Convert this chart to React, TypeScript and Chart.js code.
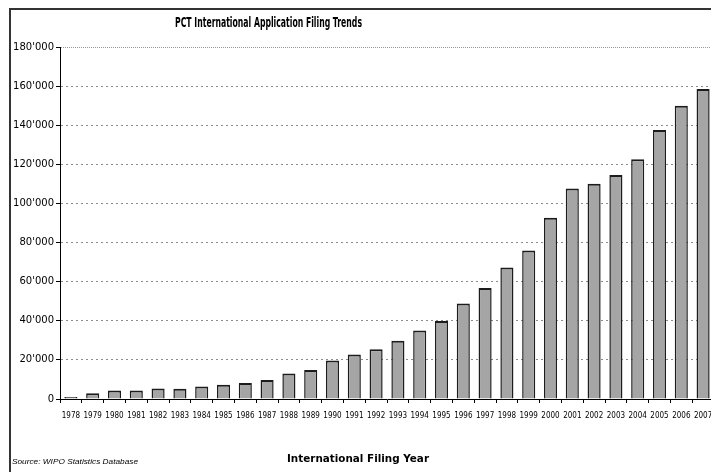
import React, { useEffect, useRef } from "react";
import { Chart, registerables } from "chart.js";

Chart.register(...registerables);

const years: string[] = [
  "1978", "1979", "1980", "1981", "1982", "1983", "1984", "1985", "1986", "1987",
  "1988", "1989", "1990", "1991", "1992", "1993", "1994", "1995", "1996", "1997",
  "1998", "1999", "2000", "2001", "2002", "2003", "2004", "2005", "2006", "2007",
];

const filings: number[] = [
  1000, 2900, 4400, 4300, 5400, 5300, 6400, 7300, 8200, 9700,
  13000, 14800, 19700, 22700, 25500, 29800, 35000, 39900, 48800, 56800,
  67300, 76000, 92700, 107600, 110100, 114600, 122600, 137600, 150000, 158500,
];

const yMin = 0;
const yMax = 180000;
const yStep = 20000;

const chartTitle = "PCT International Application Filing Trends";
const xAxisTitle = "International Filing Year";
const sourceNote = "Source: WIPO Statistics Database";

function formatThousands(v: number): string {
  if (v < 1000) return String(v);
  const k = Math.floor(v / 1000);
  const r = String(v % 1000).padStart(3, "0");
  return k + "'" + r;
}

function drawFitted(
  ctx: CanvasRenderingContext2D,
  text: string,
  font: string,
  left: number,
  baseline: number,
  width: number
) {
  ctx.save();
  ctx.font = font;
  ctx.fillStyle = "#000";
  ctx.textAlign = "left";
  ctx.textBaseline = "alphabetic";
  const w = ctx.measureText(text).width || 1;
  ctx.translate(left, baseline);
  ctx.scale(width / w, 1);
  ctx.fillText(text, 0, 0);
  ctx.restore();
}

const decorPlugin = {
  id: "decor",
  afterDraw(chart: any) {
    const ctx: CanvasRenderingContext2D = chart.ctx;
    ctx.save();
    ctx.strokeStyle = "#333";
    ctx.lineWidth = 2;
    ctx.beginPath();
    ctx.moveTo(10, 480);
    ctx.lineTo(10, 9);
    ctx.lineTo(chart.width, 9);
    ctx.stroke();
    ctx.restore();

    drawFitted(ctx, chartTitle, 'bold 14px "DejaVu Sans", sans-serif', 175, 27, 187);
    drawFitted(ctx, xAxisTitle, 'bold 11px "DejaVu Sans", sans-serif', 287, 462, 142);
    drawFitted(ctx, sourceNote, 'italic 8px "Liberation Sans", sans-serif', 12, 464, 126);
  },
};

export default function App() {
  const canvasRef = useRef<HTMLCanvasElement | null>(null);

  useEffect(() => {
    const canvas = canvasRef.current;
    if (!canvas) return;
    const chart = new Chart(canvas, {
      type: "bar",
      data: {
        labels: years,
        datasets: [
          {
            label: "PCT filings",
            data: filings,
            backgroundColor: "#a5a5a5",
            borderColor: "#1c1c1c",
            borderWidth: { top: 2, left: 1.5, right: 1.5, bottom: 0 },
            borderSkipped: "start",
            barPercentage: 0.6,
            categoryPercentage: 1.0,
          },
        ],
      },
      options: {
        responsive: false,
        animation: false,
        devicePixelRatio: 1,
        layout: { padding: { left: 8, right: 26, top: 47, bottom: 0 } },
        plugins: {
          legend: { display: false },
          title: { display: false },
          tooltip: { enabled: false },
        },
        scales: {
          x: {
            offset: true,
            afterFit: (scale: any) => {
              scale.height = 73;
            },
            grid: {
              display: true,
              drawOnChartArea: false,
              drawTicks: true,
              tickLength: 4,
              tickColor: "#000",
              offset: true,
            },
            border: { display: true, color: "#000", width: 1 },
            ticks: {
              autoSkip: false,
              maxRotation: 0,
              minRotation: 0,
              padding: 8,
              color: "#000",
              font: { family: '"Liberation Sans Narrow", "DejaVu Sans Condensed", sans-serif', size: 8 },
            },
          },
          y: {
            min: yMin,
            max: yMax,
            afterFit: (scale: any) => {
              scale.width = 52;
            },
            grid: {
              display: true,
              drawOnChartArea: true,
              drawTicks: true,
              tickLength: 4,
              tickColor: "#000",
              lineWidth: 1,
              color: (c: any) =>
                c.tick && c.tick.value === yMin ? "rgba(0,0,0,0)" : c.tick && c.tick.value === yMax ? "#999" : "#8c8c8c",
            },
            border: {
              display: true,
              color: "#000",
              width: 1,
              dash: (c: any) => (c.tick && c.tick.value === yMax ? [1, 1] : [2, 3]),
            },
            ticks: {
              stepSize: yStep,
              padding: 2,
              color: "#000",
              font: { family: '"DejaVu Sans", sans-serif', size: 10 },
              callback: (v: any) => formatThousands(Number(v)),
            },
          },
        },
      },
      plugins: [decorPlugin],
    } as any);
    return () => chart.destroy();
  }, []);

  return (
    <div
      style={{
        position: "fixed",
        left: 0,
        top: 0,
        width: 711,
        height: 472,
        overflow: "hidden",
        background: "#fff",
      }}
    >
      <canvas ref={canvasRef} width={740} height={472} style={{ display: "block" }} />
    </div>
  );
}
